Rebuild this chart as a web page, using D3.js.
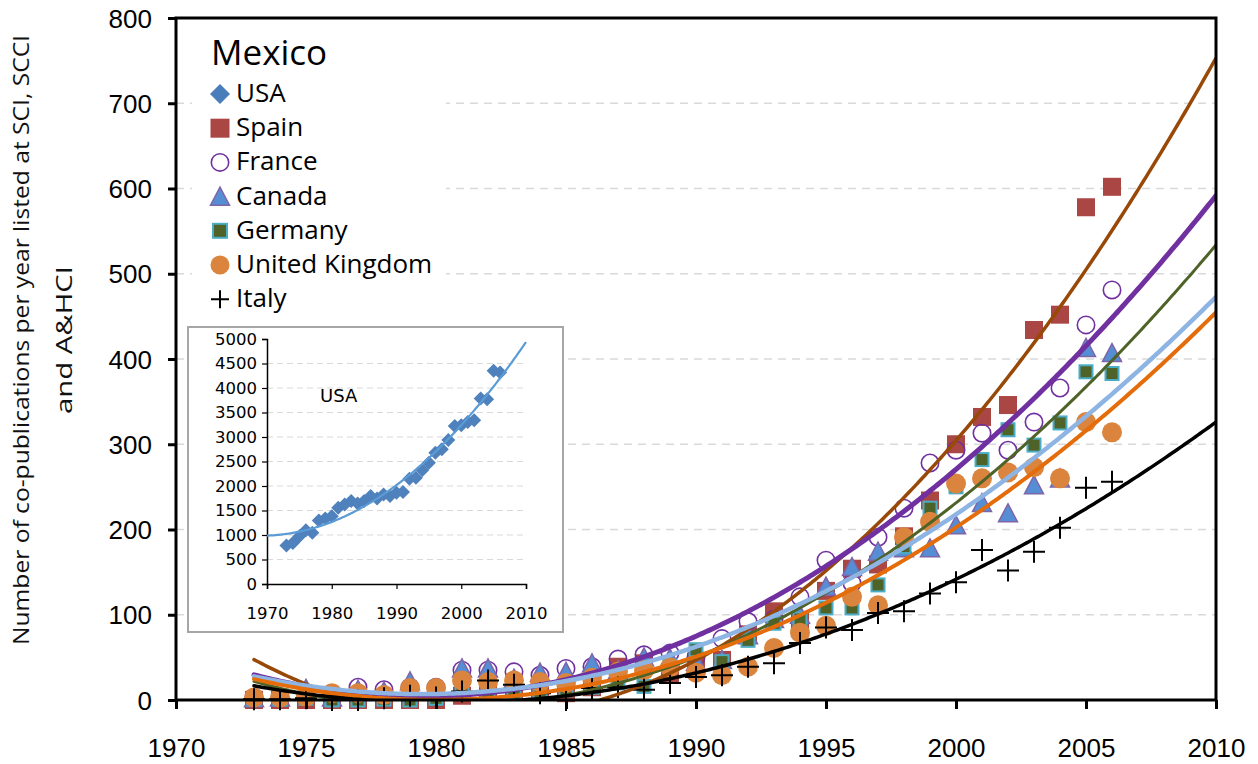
<!DOCTYPE html>
<html><head><meta charset="utf-8">
<script src="https://cdn.jsdelivr.net/npm/d3@7"></script>
<style>body{margin:0;background:#fff;} svg{display:block;}</style>
</head><body>
<svg id="c" width="1258" height="764"></svg>
<script>
// ---- data ----
const years   = [1973,1974,1975,1976,1977,1978,1979,1980,1981,1982,1983,1984,1985,1986,1987,1988,1989,1990,1991,1992,1993,1994,1995,1996,1997,1998,1999,2000,2001,2002,2003,2004,2005,2006];
const usa     = [784,839,975,1098,1044,1296,1337,1385,1555,1623,1692,1644,1692,1794,1746,1828,1794,1862,1876,2149,2169,2326,2476,2681,2749,2940,3227,3240,3308,3343,3786,3772,4352,4318];
const spain   = [0,0,0,0,0,0,0,0,5,10,12,10,8,15,39,43,30,45,47,77,104,94,128,154,159,192,234,300,332,346,434,452,578,602];
const france  = [2,3,5,5,15,12,15,15,35,35,33,29,37,39,48,53,55,50,72,92,95,121,164,137,191,225,278,293,313,293,326,366,440,481];
const canada  = [2,3,13,3,12,10,22,10,37,37,25,32,33,43,35,50,49,45,47,76,95,100,133,156,174,178,178,205,231,219,252,260,413,407];
const germany = [1,1,2,0,0,1,0,2,8,10,8,10,12,15,20,16,40,59,45,70,90,95,108,108,135,180,225,250,282,317,299,325,385,383];
const uk      = [3,3,4,8,8,6,14,14,23,21,23,21,20,26,33,35,38,32,29,39,61,79,87,121,111,191,209,254,260,267,273,260,326,314];
const italy   = [1,1,2,0,0,2,5,3,10,23,18,8,0,14,15,12,20,27,29,39,43,67,85,82,102,104,125,138,176,152,174,202,249,256];
const legendTitle = "Mexico";
const legendNames = ["USA","Spain","France","Canada","Germany","United Kingdom","Italy"];
const yTicks = [0,100,200,300,400,500,600,700,800];
const xTicks = [1970,1975,1980,1985,1990,1995,2000,2005,2010];
const insetYTicks = [0,500,1000,1500,2000,2500,3000,3500,4000,4500,5000];
const insetXTicks = [1970,1980,1990,2000,2010];

// ---- helpers ----
function quadFit(xs, ys){
  const t = xs.map(v=>v-1990);
  let S=[0,0,0,0,0], T=[0,0,0];
  t.forEach((ti,i)=>{ for(let k=0;k<5;k++) S[k]+=Math.pow(ti,k); for(let k=0;k<3;k++) T[k]+=ys[i]*Math.pow(ti,k); });
  const A=[[S[0],S[1],S[2],T[0]],[S[1],S[2],S[3],T[1]],[S[2],S[3],S[4],T[2]]];
  for(let i=0;i<3;i++){ for(let j=i+1;j<3;j++){ const f=A[j][i]/A[i][i]; for(let k=i;k<4;k++) A[j][k]-=f*A[i][k]; } }
  const c=[0,0,0];
  for(let i=2;i>=0;i--){ let s=A[i][3]; for(let k=i+1;k<3;k++) s-=A[i][k]*c[k]; c[i]=s/A[i][i]; }
  return yr => { const q=yr-1990; return c[0]+c[1]*q+c[2]*q*q; };
}
function sampleYears(a,b,step){ const out=[]; for(let v=a; v<=b+1e-9; v+=step) out.push(v); return out; }

const svg = d3.select('#c');
const FONT = "'Open Sans', 'Liberation Sans', sans-serif";
const TFONT = "'Liberation Sans', Arial, sans-serif";
const x = d3.scaleLinear().domain([1970,2010]).range([176,1216]);
const y = d3.scaleLinear().domain([0,800]).range([700,18]);

// gridlines
svg.append('g').selectAll('line').data(yTicks.filter(v=>v>0 && v<800)).join('line')
  .attr('x1',x(1970)).attr('x2',x(2010)).attr('y1',d=>y(d)).attr('y2',d=>y(d))
  .attr('stroke','#d9d9d9').attr('stroke-width',1.5).attr('stroke-dasharray','8,6');

// series definitions
const series = [
  {name:'Spain',   vals:spain,   shape:'square',   fill:'#aa4643', stroke:'none', sw:0, size:18, line:'#984807', lw:3.5},
  {name:'France',  vals:france,  shape:'circle',   fill:'none', stroke:'#7030a0', sw:1.6, size:19, line:'#7030a0', lw:5},
  {name:'Canada',  vals:canada,  shape:'triangle', fill:'#558ed5', stroke:'#7f64a8', sw:1.5, size:19, line:'#8eb4e3', lw:4.5},
  {name:'Germany', vals:germany, shape:'square',   fill:'#4f6228', stroke:'#4bacc6', sw:2, size:13, line:'#4f6228', lw:3},
  {name:'United Kingdom', vals:uk, shape:'circle', fill:'#db843d', stroke:'none', sw:0, size:20, line:'#e46c0a', lw:4},
  {name:'Italy',   vals:italy,   shape:'cross',    fill:'none', stroke:'#000', sw:2, size:22, line:'#000', lw:3.5}
];

function drawMarker(g, shape, cx, cy, s, fill, stroke, sw){
  const h=s/2;
  if(shape==='square') g.append('rect').attr('x',cx-h).attr('y',cy-h).attr('width',s).attr('height',s).attr('fill',fill).attr('stroke',stroke).attr('stroke-width',sw);
  else if(shape==='circle') g.append('circle').attr('cx',cx).attr('cy',cy).attr('r',h - (sw?sw/2:0)).attr('fill',fill).attr('stroke',stroke).attr('stroke-width',sw);
  else if(shape==='triangle') g.append('path').attr('d',`M${cx},${cy-h}L${cx+h},${cy+h*0.9}L${cx-h},${cy+h*0.9}Z`).attr('fill',fill).attr('stroke',stroke).attr('stroke-width',sw);
  else if(shape==='diamond') g.append('path').attr('d',`M${cx},${cy-h}L${cx+h},${cy}L${cx},${cy+h}L${cx-h},${cy}Z`).attr('fill',fill).attr('stroke',stroke).attr('stroke-width',sw);
  else if(shape==='cross') g.append('path').attr('d',`M${cx-h},${cy}H${cx+h}M${cx},${cy-h}V${cy+h}`).attr('fill','none').attr('stroke',stroke).attr('stroke-width',sw);
}

// markers
const mg = svg.append('g');
series.forEach(s=>{
  const g = mg.append('g');
  s.vals.forEach((v,i)=> drawMarker(g, s.shape, x(years[i]), y(v), s.size, s.fill, s.stroke, s.sw));
});

// trendlines (polynomial order 2, forecast to 2010)
svg.append('clipPath').attr('id','plotclip').append('rect').attr('x',176).attr('y',18).attr('width',1040).attr('height',682);
const lg = svg.append('g').attr('clip-path','url(#plotclip)');
const trendOrder = ['Spain','France','Germany','Canada','United Kingdom','Italy'];
trendOrder.forEach(n=>{
  const s = series.find(d=>d.name===n);
  const f = quadFit(years, s.vals);
  const pts = sampleYears(1973,2010,0.1);
  lg.append('path').attr('d', d3.line().x(d=>x(d)).y(d=>y(f(d))).curve(d3.curveLinear)(pts))
    .attr('fill','none').attr('stroke',s.line).attr('stroke-width',s.lw).attr('stroke-linecap','round');
});

// axes
const ya = svg.append('g').attr('transform','translate(176,0)').call(d3.axisLeft(y).tickValues(yTicks).tickSize(8).tickPadding(16).tickFormat(d3.format('d')));
ya.select('.domain').remove();
ya.selectAll('line').attr('stroke','#000').attr('stroke-width',3);
ya.selectAll('text').attr('font-family',TFONT).attr('font-size',26).attr('fill','#000').attr('dy','0.35em');
const xa = svg.append('g').attr('transform','translate(0,700)').call(d3.axisBottom(x).tickValues(xTicks).tickSize(9).tickFormat(d3.format('d')));
xa.select('.domain').remove();
xa.selectAll('line').attr('stroke','#000').attr('stroke-width',3);
xa.selectAll('text').attr('font-family',TFONT).attr('font-size',26).attr('fill','#000').attr('y',57).attr('dy',0);
// plot border
svg.append('rect').attr('x',176).attr('y',18).attr('width',1040).attr('height',682).attr('fill','none').attr('stroke','#000').attr('stroke-width',3);

// y title
const yt = svg.append('g').attr('font-family',"'Liberation Sans Narrow','Open Sans',sans-serif").attr('fill','#111');
yt.append('text').attr('transform','translate(29,340) rotate(-90)').attr('text-anchor','middle').attr('font-size',21)
  .attr('textLength',610).attr('lengthAdjust','spacingAndGlyphs').text('Number of co-publications per year listed at SCI, SCCI');
yt.append('text').attr('transform','translate(72,340) rotate(-90)').attr('text-anchor','middle').attr('font-size',21)
  .attr('textLength',148).attr('lengthAdjust','spacingAndGlyphs').text('and A&HCI');

// legend
const leg = svg.append('g');
leg.append('rect').attr('x',192).attr('y',26).attr('width',254).attr('height',292).attr('fill','#fff');
leg.append('text').attr('x',211).attr('y',65).attr('font-family',FONT).attr('font-size',35).attr('fill','#000').text(legendTitle);
const legStyles = [{shape:'diamond',fill:'#4a7ebb',stroke:'none',sw:0,size:20}].concat(series.map(s=>({shape:s.shape,fill:s.fill,stroke:s.stroke,sw:s.sw,size:s.shape==='cross'?18:(s.size>15?19:14)})));
legendNames.forEach((n,i)=>{
  const by = 102 + i*34.2;
  const st = legStyles[i];
  drawMarker(leg, st.shape, 220, by-8, st.size, st.fill, st.stroke, st.sw);
  leg.append('text').attr('x',236).attr('y',by).attr('font-family',FONT).attr('font-size',26).attr('fill','#000').text(n);
});

// inset
const ins = svg.append('g');
ins.append('rect').attr('x',188).attr('y',327).attr('width',375).attr('height',305).attr('fill','#fff').attr('stroke','#a6a6a6').attr('stroke-width',2);
const xi = d3.scaleLinear().domain([1970,2010]).range([267,526]);
const yi = d3.scaleLinear().domain([0,5000]).range([584,339]);
ins.append('g').selectAll('line').data(insetYTicks.filter(v=>v>0 && v<5000)).join('line')
  .attr('x1',xi(1970)).attr('x2',xi(2010)).attr('y1',d=>yi(d)).attr('y2',d=>yi(d))
  .attr('stroke','#d9d9d9').attr('stroke-width',1.2).attr('stroke-dasharray','6,4');
const IFONT = "'DejaVu Sans', sans-serif";
const yia = ins.append('g').attr('transform','translate(267,0)').call(d3.axisLeft(yi).tickValues(insetYTicks).tickSize(5).tickPadding(5).tickFormat(d3.format('d')));
yia.select('.domain').attr('stroke','#000').attr('stroke-width',1.5);
yia.selectAll('line').attr('stroke','#000').attr('stroke-width',1.2);
yia.selectAll('text').attr('font-family',IFONT).attr('font-size',16.5).attr('fill','#000');
const xia = ins.append('g').attr('transform','translate(0,584)').call(d3.axisBottom(xi).tickValues(insetXTicks).tickSize(5).tickFormat(d3.format('d')));
xia.select('.domain').attr('stroke','#000').attr('stroke-width',1.5);
xia.selectAll('line').attr('stroke','#000').attr('stroke-width',1.2);
xia.selectAll('text').attr('font-family',IFONT).attr('font-size',16.5).attr('fill','#000').attr('y',35).attr('dy',0);
ins.append('text').attr('x',320).attr('y',402).attr('font-family',IFONT).attr('font-size',18).attr('fill','#000').text('USA');
usa.forEach((v,i)=> drawMarker(ins,'diamond',xi(years[i]),yi(v),14,'#4f81bd','none',0));
const fu = quadFit(years, usa);
ins.append('path').attr('d', d3.line().x(d=>xi(d)).y(d=>yi(fu(d)))(sampleYears(1970,2010,0.2)))
  .attr('fill','none').attr('stroke','#5b9bd5').attr('stroke-width',2.2);
</script>
</body></html>
